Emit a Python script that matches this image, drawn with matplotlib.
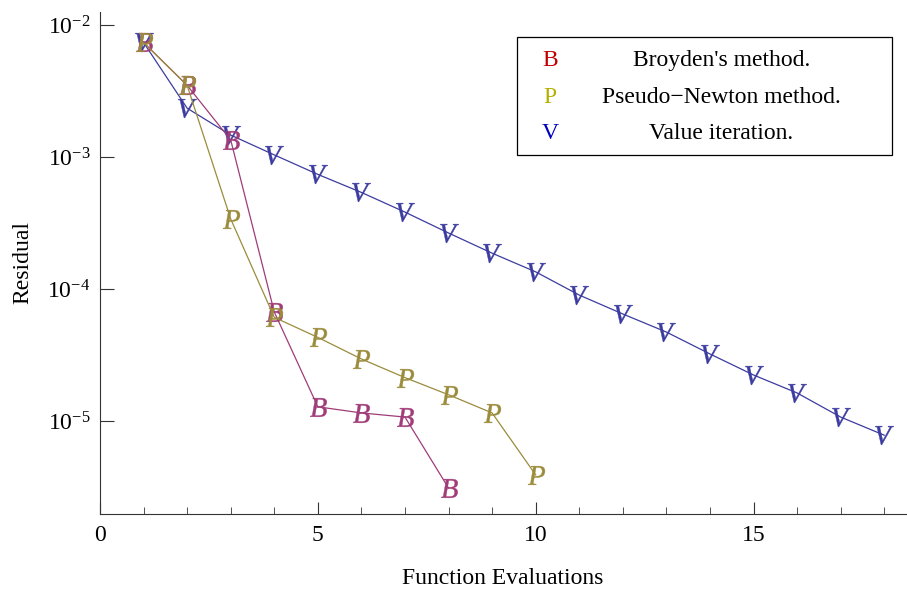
import matplotlib
matplotlib.use("Agg")
import matplotlib.pyplot as plt
from matplotlib.ticker import MultipleLocator, NullLocator, LogFormatterMathtext, FixedLocator
from matplotlib.patches import Rectangle

plt.rcParams['font.family'] = ['Liberation Serif', 'DejaVu Serif']
plt.rcParams['mathtext.fontset'] = 'custom'
plt.rcParams['mathtext.rm'] = 'Liberation Serif'
plt.rcParams['mathtext.it'] = 'Liberation Serif:italic'

# data
broyden_x = [1, 2, 3, 4, 5, 6, 7, 8]
broyden_y = [7.4e-3, 3.5e-3, 1.35e-3, 6.7e-5, 1.28e-5, 1.15e-5, 1.07e-5, 3.1e-6]

pseudo_x = [1, 2, 3, 4, 5, 6, 7, 8, 9, 10]
pseudo_y = [7.4e-3, 3.5e-3, 3.4e-4, 6.1e-5, 4.3e-5, 2.95e-5, 2.13e-5, 1.58e-5, 1.15e-5, 3.9e-6]

value_x = list(range(1, 19))
value_y = [7.4e-3, 2.35e-3, 1.47e-3, 1.04e-3, 7.4e-4, 5.4e-4, 3.83e-4, 2.66e-4, 1.87e-4,
           1.35e-4, 9.0e-5, 6.47e-5, 4.72e-5, 3.22e-5, 2.23e-5, 1.63e-5, 1.07e-5, 7.8e-6]

legend_labels = ["Broyden's method.", "Pseudo\u2212Newton method.", "Value iteration."]
legend_letters = ["B", "P", "V"]

col_b = "#a03c78"
col_p = "#9b8c3c"
col_v = "#3c3ca0"
legend_cols = ["#c00000", "#b4b000", "#0000c0"]

fs = 17

fig = plt.figure(figsize=(9.07, 5.90), dpi=100)
ax = fig.add_axes([100/907, 76/590, 806/907, 502/590])

ax.plot(value_x, value_y, color=col_v, lw=0.9, marker=r'$\mathit{V}$', markersize=13.5, markeredgewidth=0.3)
ax.plot(broyden_x, broyden_y, color=col_b, lw=0.9, marker=r'$\mathit{B}$', markersize=13.5, markeredgewidth=0.3)
ax.plot(pseudo_x, pseudo_y, color=col_p, lw=0.9, marker=r'$\mathit{P}$', markersize=13.5, markeredgewidth=0.3)

ax.set_yscale('log')
ax.set_xlim(0, 18.5)
ax.set_ylim(1.97e-6, 1.26e-2)

ax.xaxis.set_major_locator(MultipleLocator(5))
ax.xaxis.set_minor_locator(MultipleLocator(1))
ax.yaxis.set_major_locator(FixedLocator([1e-5, 1e-4, 1e-3, 1e-2]))
ax.yaxis.set_major_formatter(LogFormatterMathtext())
ax.yaxis.set_minor_locator(NullLocator())

ax.spines['top'].set_visible(False)
ax.spines['right'].set_visible(False)
for s in ['left', 'bottom']:
    ax.spines[s].set_linewidth(0.8)
    ax.spines[s].set_color('#333333')
ax.tick_params(which='both', direction='in', labelsize=fs, colors='#333333', labelcolor='black')
ax.tick_params(axis='x', which='major', length=9, pad=8)
ax.tick_params(axis='x', which='minor', length=5)
ax.tick_params(axis='y', which='major', length=10, pad=7)

ax.set_xlabel("Function Evaluations", fontsize=fs, labelpad=16)
ax.set_ylabel("Residual", fontsize=fs, labelpad=10)

# legend box drawn by hand to keep the centred text layout
ax.add_patch(Rectangle((0.517, 0.715), 0.466, 0.235, transform=ax.transAxes,
                       facecolor='white', edgecolor='black', lw=0.9, zorder=5))
rows = [0.904, 0.830, 0.757]
for letter, label, c, yy in zip(legend_letters, legend_labels, legend_cols, rows):
    ax.text(0.558, yy, letter, color=c, fontsize=fs, ha='center', va='center',
            transform=ax.transAxes, zorder=6)
    ax.text(0.771, yy, label, color='black', fontsize=fs, ha='center', va='center',
            transform=ax.transAxes, zorder=6)

fig.savefig("out.png", dpi=100)
